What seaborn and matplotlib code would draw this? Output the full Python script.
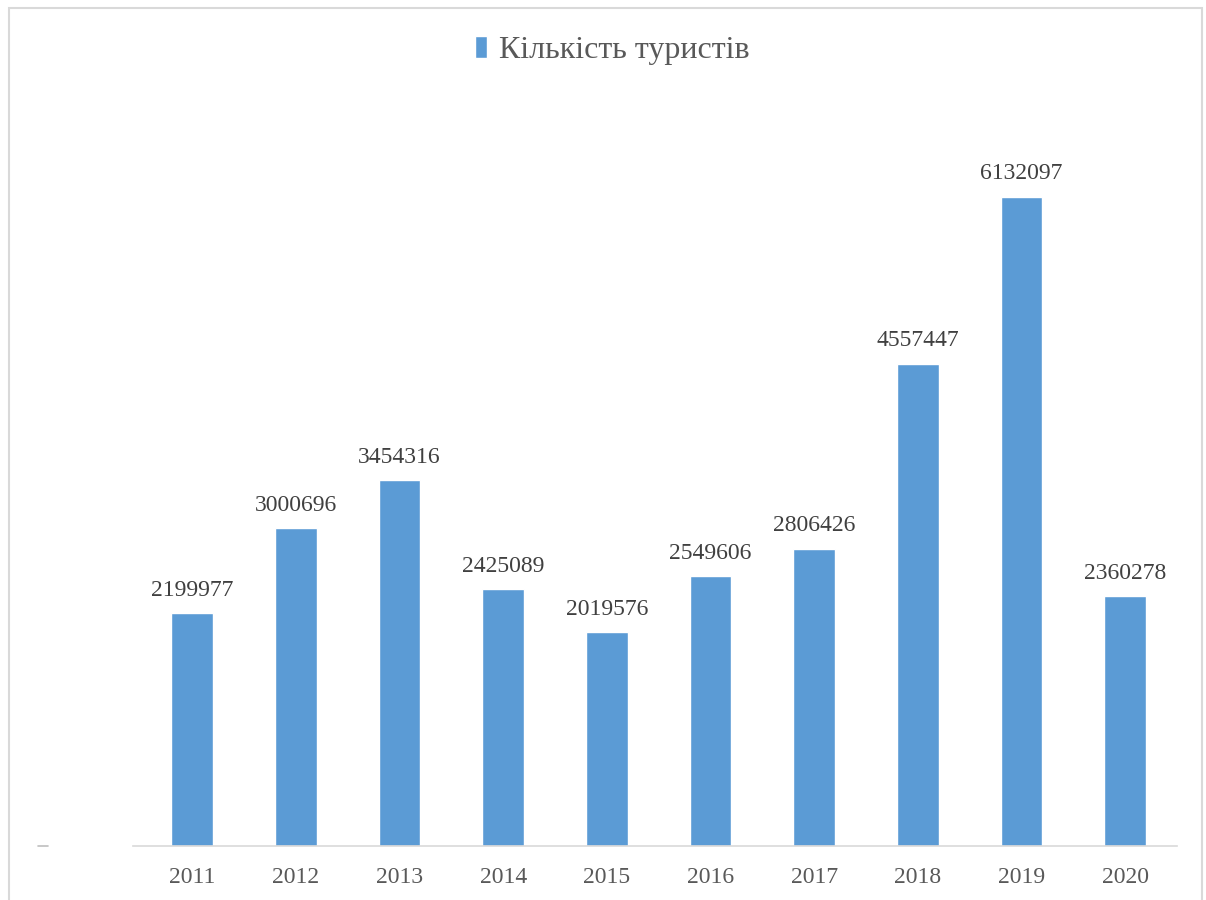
import pandas as pd
import matplotlib.pyplot as plt
import seaborn as sns
from matplotlib.patches import Rectangle
from matplotlib.lines import Line2D

years = ['2011', '2012', '2013', '2014', '2015', '2016', '2017', '2018', '2019', '2020']
tourists = [2199977, 3000696, 3454316, 2425089, 2019576, 2549606, 2806426, 4557447, 6132097, 2360278]
series_name = 'Кількість туристів'

df = pd.DataFrame({'year': years, 'tourists': tourists})

sns.set_style('white')
plt.rcParams['font.family'] = ['Liberation Serif', 'DejaVu Serif']

fig = plt.figure(figsize=(12.06, 9), dpi=100)
ax = fig.add_axes([0.1103, 0.06, 0.8657, 0.8233])

sns.barplot(data=df, x='year', y='tourists', color='#5B9BD5', saturation=1,
            width=0.4, label=series_name, ax=ax)

# подписи значений над столбцами
for i, v in enumerate(tourists):
    ax.annotate(str(v), (i, v), xytext=(0, 9), textcoords='offset points',
                ha='center', va='bottom', fontsize=17, color='#404040')

ax.set_xlim(-0.57, 9.5)
ax.set_ylim(0, 7000000)
ax.set_xlabel('')
ax.set_ylabel('')
ax.set_yticks([])
ax.tick_params(axis='x', length=0, labelsize=17, labelcolor='#595959', pad=15)
for s in ['top', 'right', 'left']:
    ax.spines[s].set_visible(False)
ax.spines['bottom'].set_color('#D9D9D9')
ax.spines['bottom'].set_linewidth(1.2)

ax.legend(loc='center', bbox_to_anchor=(0.508, 0.944), bbox_transform=fig.transFigure,
          frameon=False, fontsize=23, handlelength=0.35, handleheight=0.7,
          handletextpad=0.4, labelcolor='#595959')

# рамка диаграммы
fig.patches.append(Rectangle((9 / 1206, -0.05), 1193 / 1206, 1.0 - 8 / 900 + 0.05,
                             transform=fig.transFigure, fill=False,
                             edgecolor='#D9D9D9', linewidth=1.5))
fig.lines.append(Line2D([38 / 1206, 48 / 1206], [54 / 900, 54 / 900],
                        transform=fig.transFigure, color='#BFBFBF', linewidth=1.2))

plt.savefig('out.png', dpi=100)
